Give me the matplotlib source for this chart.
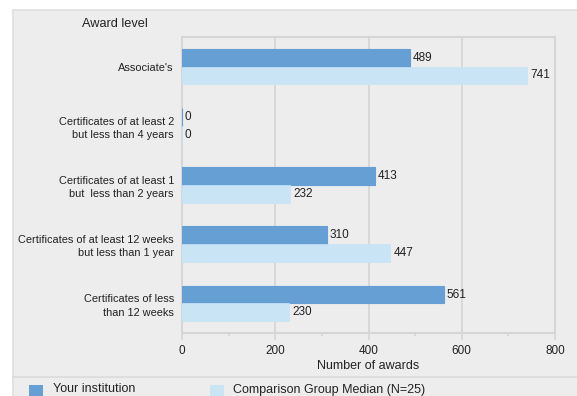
import matplotlib
matplotlib.use("Agg")
from matplotlib import pyplot as plt
from matplotlib.patches import Rectangle
from matplotlib.lines import Line2D
import numpy as np

plt.rcParams['font.family'] = ['Liberation Sans', 'DejaVu Sans']

#--- datos ---
niveles = ["Associate's",
           "Certificates of at least 2\nbut less than 4 years",
           "Certificates of at least 1\nbut  less than 2 years",
           "Certificates of at least 12 weeks\nbut less than 1 year",
           "Certificates of less\nthan 12 weeks"]
institucion = [489, 0, 413, 310, 561]
comparacion = [741, 0, 232, 447, 230]
serie_nombres = ["Your institution", "Comparison Group Median (N=25)"]

azul = '#659fd3'
celeste = '#c8e4f5'
gris = '#d6d6d6'
fondo = '#ededed'
texto = '#222222'

W, H = 577, 396
fig = plt.figure(figsize=(W / 100, H / 100), dpi=100)
fig.patch.set_facecolor('white')

# panel gris de fondo
fig.patches.append(Rectangle((13 / W, -0.01), 1.0, 1 - 10 / H + 0.01, transform=fig.transFigure,
                             facecolor=fondo, edgecolor='#dedede', linewidth=1.2, zorder=-2))
fig.lines.append(Line2D([13 / W, 1], [1 - 377 / H, 1 - 377 / H], transform=fig.transFigure,
                        color='#dcdcdc', linewidth=1.2, zorder=-1))

ax = fig.add_axes([182 / W, 1 - 333 / H, 373 / W, 296 / H])
ax.set_facecolor(fondo)

y = np.arange(len(niveles))
alto = 0.3
ax.barh(y - alto / 2, institucion, height=alto, color=azul, edgecolor=azul, linewidth=0.8, zorder=3)
ax.barh(y + alto / 2, comparacion, height=alto, color=celeste, edgecolor=celeste, linewidth=0.5, zorder=3)

for i in range(len(niveles)):
    ax.text(institucion[i] + 6, y[i] - alto / 2, str(institucion[i]), va='center', ha='left',
            fontsize=8.5, color=texto, zorder=4)
    ax.text(comparacion[i] + 6, y[i] + alto / 2, str(comparacion[i]), va='center', ha='left',
            fontsize=8.5, color=texto, zorder=4)

ax.set_xlim(0, 800)
ax.set_ylim(len(niveles) - 0.5, -0.5)
ax.set_yticks(y)
ax.set_yticklabels(niveles, fontsize=7.9, color=texto, linespacing=1.4)
ax.tick_params(axis='y', length=0, pad=5.8)

ax.set_xticks([0, 200, 400, 600, 800])
ax.set_xticks([100, 300, 500, 700], minor=True)
ax.tick_params(axis='x', which='major', length=5, width=1.2, color=gris, labelsize=8.5,
               labelcolor=texto, pad=3.5)
ax.tick_params(axis='x', which='minor', length=2, width=1.2, color=gris)
ax.grid(axis='x', which='major', color=gris, linewidth=1.3, zorder=0)
ax.set_axisbelow(True)
for s in ax.spines.values():
    s.set_color(gris)
    s.set_linewidth(1.5)

ax.set_xlabel("Number of awards", fontsize=9, color=texto, labelpad=2)
fig.text(115 / W, 1 - 24 / H, "Award level", fontsize=9.2, color=texto, ha='center', va='center')

# leyenda
fig.patches.append(Rectangle((29 / W, 0), 14 / W, 11 / H, transform=fig.transFigure,
                             facecolor=azul, edgecolor='none'))
fig.text(53 / W, 1 - 389.5 / H, serie_nombres[0], fontsize=9, color=texto, ha='left', va='center')
fig.patches.append(Rectangle((210 / W, 0), 14 / W, 11 / H, transform=fig.transFigure,
                             facecolor=celeste, edgecolor='none'))
fig.text(233 / W, 1 - 389.5 / H, serie_nombres[1], fontsize=9, color=texto, ha='left', va='center')

fig.savefig('out.png', dpi=100, facecolor=fig.get_facecolor())
